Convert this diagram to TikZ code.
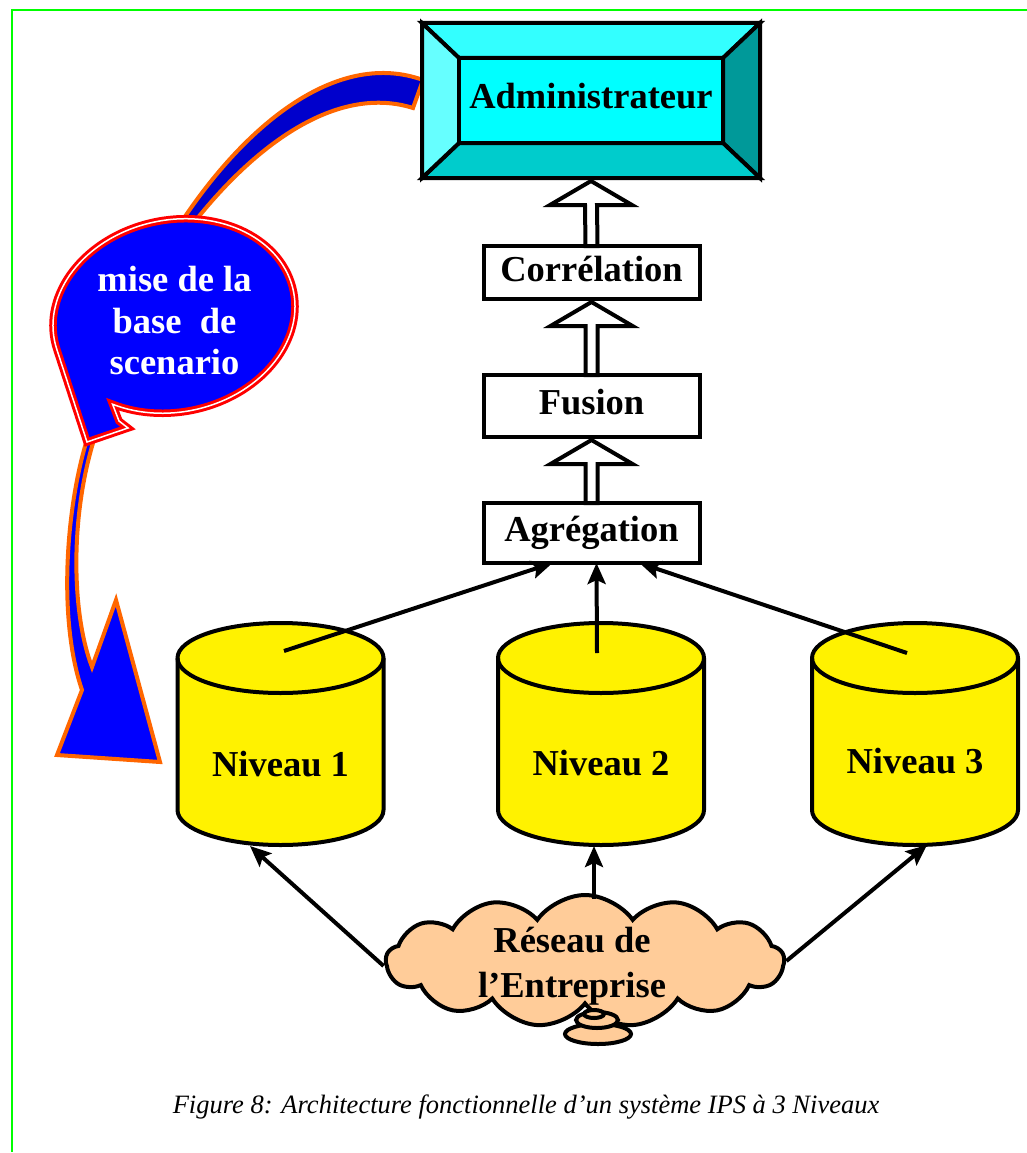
\documentclass[tikz,border=0pt]{standalone}
\usepackage{fontspec}
\setmainfont{Liberation Serif}
\usetikzlibrary{arrows.meta,shapes.symbols}

\definecolor{frameGreen}{RGB}{0,255,0}
\definecolor{bandBlue}{RGB}{0,0,204}
\definecolor{calloutBlue}{RGB}{0,0,255}
\definecolor{bandOrange}{RGB}{255,102,0}
\definecolor{peach}{RGB}{255,204,153}
\definecolor{bevelTop}{RGB}{51,255,255}
\definecolor{bevelLeft}{RGB}{102,255,255}
\definecolor{bevelRight}{RGB}{0,153,153}
\definecolor{bevelBottom}{RGB}{0,204,204}
\definecolor{bevelFace}{RGB}{0,255,255}

% cylinder body centred on x = #1
\newcommand\drumshape[1]{%
  \filldraw[drum] ({#1-103},658) -- ({#1-103},810)
    arc[start angle=180,end angle=0,x radius=103,y radius=35]
    -- ({#1+103},658)
    arc[start angle=0,end angle=-180,x radius=103,y radius=35] -- cycle;
  \draw[drum,fill=none] ({#1-103},658)
    arc[start angle=180,end angle=0,x radius=103,y radius=35];}

% hollow block arrow from the top of #1 to the bottom of #2
\newcommand\hollowup[2]{%
  \filldraw[hollow] ([xshift=-6pt]#1.north) -- ([xshift=-6pt,yshift=-27pt]#2.south)
    -- ([xshift=-41pt,yshift=-27pt]#2.south) -- ([yshift=-3pt]#2.south)
    -- ([xshift=41pt,yshift=-27pt]#2.south) -- ([xshift=6pt,yshift=-27pt]#2.south)
    -- ([xshift=6pt]#1.north) -- cycle;}

\begin{document}
\begin{tikzpicture}[x=1pt,y=-1pt,
  txt/.style={font=\fontsize{36.5}{41.5}\selectfont\bfseries, inner sep=0pt, outer sep=0pt, align=center},
  oneline/.style={txt, text height=25pt, text depth=8pt},
  stagebox/.style={oneline, draw, line width=4pt, fill=white, minimum width=216pt},
  hollow/.style={draw=black, line width=4pt, fill=white, line join=miter},
  feed/.style={line width=4pt, -{Stealth[length=21pt,width=18pt,inset=4pt]}},
  drum/.style={draw=black, line width=4pt, fill=yellow},
  facet/.style={draw=black, line width=4pt, line join=miter},
  band/.style={draw=bandOrange, line width=4pt, line join=miter},
]
\useasboundingbox (0,0) rectangle (1027,1153);

% page frame
\draw[frameGreen, line width=2pt] (1027,10) -- (12,10) -- (12,1152);

% curved block arrows around the callout
\filldraw[band, fill=bandBlue] (184,218) .. controls (250,120) and (340,50) .. (423,80)
  -- (413,108) .. controls (340,85) and (260,140) .. (196,220) -- cycle;
\filldraw[band, fill=calloutBlue] (86,443) .. controls (66,510) and (58,620) .. (82,690)
  -- (57,755) -- (160,762) -- (116,600) -- (92,667)
  .. controls (72,615) and (70,520) .. (93,443) -- cycle;

% speech-bubble callout
\coordinate (tailA) at (119,421);
\coordinate (tailB) at (128,428);
\coordinate (tailC) at (87,442);
\begin{scope}[shift={(174,316)}, rotate=12]
  \filldraw[draw=red, double=white, line width=3pt, double distance=1.5pt,
            fill=calloutBlue, line join=miter]
    (175:122 and 96) arc[start angle=175, end angle=490, x radius=122, y radius=96]
    -- (tailA) -- (tailB) -- (tailC) -- cycle;
\end{scope}
\node[txt, text=white] (scen) at (174.5,321) {mise de la\\base\ \ de\\scenario};

% bevelled administrator button
\filldraw[facet, fill=bevelTop] (422,23) -- (760,23) -- (723,58) -- (459,58) -- cycle;
\filldraw[facet, fill=bevelRight] (760,23) -- (760,178) -- (723,143) -- (723,58) -- cycle;
\filldraw[facet, fill=bevelBottom] (760,178) -- (422,178) -- (459,143) -- (723,143) -- cycle;
\filldraw[facet, fill=bevelLeft] (422,178) -- (422,23) -- (459,58) -- (459,143) -- cycle;
\filldraw[facet, fill=bevelFace] (459,58) rectangle (723,143);
\node[oneline, minimum width=338pt, minimum height=155pt] (admin) at (591,100.5) {Administrateur};

% processing stages
\node[stagebox, minimum height=53pt] (corr) at (591.5,272.5) {Corrélation};
\node[stagebox, minimum height=62pt] (fus) at (591.5,406) {Fusion};
\node[stagebox, minimum height=60pt] (agr) at (591.5,533) {Agrégation};
\hollowup{corr}{admin}
\hollowup{fus}{corr}
\hollowup{agr}{fus}

% sensor levels
\drumshape{280.5}
\drumshape{601}
\drumshape{915}
\node[oneline] (lvl1) at (280.5,768) {Niveau 1};
\node[oneline] (lvl2) at (601,767) {Niveau 2};
\node[oneline] (lvl3) at (915,765) {Niveau 3};
\coordinate (n1in) at (284,651);
\coordinate (n2in) at (597,653);
\coordinate (n3in) at (907,653);
\coordinate (n1bot) at (250,846);
\coordinate (n2bot) at (594,846);
\coordinate (n3bot) at (927,845);

\draw[feed] (n1in) -- ([xshift=-39pt]agr.south);
\draw[feed] (n2in) -- ([xshift=5pt]agr.south);
\draw[feed] (n3in) -- ([xshift=48pt]agr.south);

% enterprise network
\node[cloud, draw=black, fill=peach, line width=4pt, cloud puffs=13, cloud puff arc=110,
      aspect=3.2, minimum width=398pt, minimum height=132pt, inner sep=0pt] (net) at (585,961) {};
\draw[feed] ([yshift=-5pt]net.west) -- (n1bot);
\draw[feed] ([xshift=9pt,yshift=-6pt]net.north) -- (n2bot);
\draw[feed] (net.east) -- (n3bot);
\filldraw[draw=black, line width=4pt, fill=peach] (598,1034) ellipse[x radius=33, y radius=10];
\filldraw[draw=black, line width=4pt, fill=peach] (597,1020) ellipse[x radius=21, y radius=8];
\filldraw[draw=black, line width=4pt, fill=peach] (594,1014) ellipse[x radius=10, y radius=4];
\node[txt, font=\fontsize{36.5}{45}\selectfont\bfseries] (netlabel) at (572,966) {Réseau de\\l’Entreprise};

% caption
\node[font=\fontsize{26.5}{30}\selectfont\itshape, inner sep=0pt] (caption) at (526,1107)
  {Figure 8: Architecture fonctionnelle d’un système IPS à 3 Niveaux};
\end{tikzpicture}
\end{document}
